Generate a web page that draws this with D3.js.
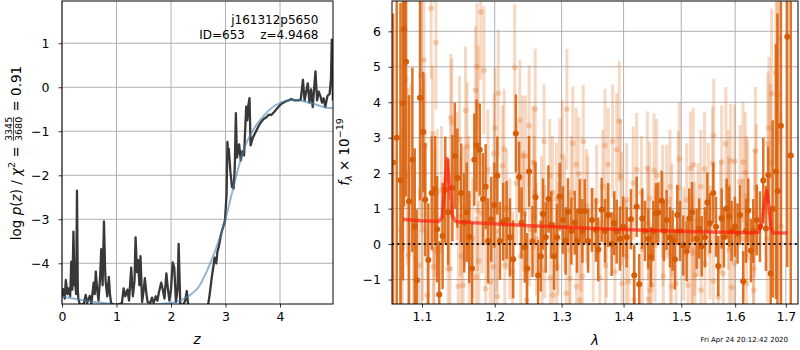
<!DOCTYPE html>
<html>
<head>
<meta charset="utf-8">
<script src="https://cdn.jsdelivr.net/npm/d3@7"></script>
<style>
	body { margin: 0; background: #fff; }
	svg { font-family: "DejaVu Sans", sans-serif; }
</style>
</head>
<body>
<svg id="chart" width="800" height="350"></svg>
<script>
// ---- p(z) panel data
var pzZ = [0.00,0.02,0.05,0.07,0.10,0.12,0.15,0.17,0.19,0.21,0.23,0.24,0.26,0.275,0.29,0.30,0.33,0.40,0.435,0.46,0.51,0.54,0.58,0.60,0.62,0.645,0.67,0.70,0.72,0.745,0.77,0.79,0.80,0.83,0.86,0.88,0.90,0.95,1.05,1.10,1.13,1.16,1.20,1.23,1.27,1.30,1.33,1.35,1.375,1.395,1.42,1.44,1.47,1.50,1.52,1.55,1.57,1.62,1.65,1.68,1.72,1.75,1.78,1.82,1.85,1.88,1.915,1.94,1.97,2.00,2.03,2.06,2.09,2.12,2.14,2.17,2.22,2.26,2.29,2.32,2.40,2.55,2.65,2.71,2.75,2.78,2.80,2.83,2.85,2.88,2.92,2.95,2.99,3.02,3.035,3.05,3.06,3.09,3.12,3.15,3.17,3.19,3.21,3.23,3.25,3.28,3.31,3.34,3.38,3.40,3.42,3.44,3.46,3.50,3.54,3.58,3.62,3.66,3.70,3.75,3.80,3.84,3.90,3.96,4.02,4.09,4.15,4.21,4.27,4.33,4.38,4.42,4.45,4.48,4.51,4.54,4.57,4.60,4.65,4.68,4.71,4.74,4.77,4.80,4.83,4.87,4.91,4.935,4.95,4.96,4.97];
var pzLog = [-4.75,-4.59,-4.80,-4.38,-4.70,-4.57,-4.75,-3.96,-4.60,-3.28,-4.50,-4.40,-4.70,-2.35,-4.60,-4.80,-4.95,-4.92,-4.72,-4.90,-4.74,-4.92,-4.44,-4.70,-4.19,-4.60,-4.85,-4.30,-3.68,-4.50,-3.05,-4.10,-4.40,-4.75,-4.31,-4.70,-4.90,-4.95,-4.93,-4.90,-4.57,-4.75,-4.60,-4.85,-4.10,-4.75,-4.40,-3.41,-4.20,-3.93,-4.50,-3.84,-4.88,-4.60,-4.34,-4.70,-4.88,-4.90,-4.78,-4.90,-4.75,-4.85,-4.65,-4.44,-4.60,-4.80,-4.23,-4.55,-4.85,-4.60,-3.98,-4.10,-4.88,-4.60,-3.56,-4.93,-4.95,-4.85,-4.63,-5.00,-5.50,-5.80,-5.20,-4.70,-4.30,-4.05,-3.87,-4.00,-3.75,-3.60,-3.33,-3.20,-3.03,-2.42,-1.24,-1.60,-1.40,-1.93,-2.27,-2.30,-1.80,-0.59,-1.60,-1.45,-1.30,-1.66,-1.45,-1.55,-0.44,-0.75,-0.40,-0.25,-1.32,-1.15,-1.05,-0.95,-0.85,-0.78,-0.72,-0.68,-0.62,-0.63,-0.55,-0.46,-0.38,-0.33,-0.30,-0.27,-0.30,-0.30,-0.28,0.17,-0.30,-0.10,0.09,-0.35,-0.05,-0.45,0.36,-0.30,-0.10,-0.20,-0.35,-0.25,-0.45,-0.20,-0.15,0.20,1.08,1.00,-0.30];
var smoothZ = [0,0.3,0.6,1.0,1.5,2.0,2.2,2.35,2.5,2.65,2.8,2.9,3.0,3.1,3.2,3.3,3.4,3.5,3.6,3.7,3.8,3.9,4.0,4.1,4.2,4.3,4.4,4.5,4.6,4.7,4.8,4.9,4.97];
var smoothLog = [-4.76,-4.82,-4.88,-4.93,-4.94,-4.90,-4.83,-4.72,-4.55,-4.20,-3.75,-3.40,-3.00,-2.50,-2.00,-1.55,-1.22,-0.98,-0.80,-0.65,-0.52,-0.42,-0.36,-0.31,-0.29,-0.29,-0.31,-0.34,-0.37,-0.41,-0.45,-0.47,-0.47];
var zTicks = [0,1,2,3,4];
var pzTicks = [-4,-3,-2,-1,0,1];

// ---- spectrum panel data, fλ in 1e-19
var darkLam = [1.0625,1.0672,1.0720,1.0752,1.0766,1.0791,1.0830,1.0874,1.0905,1.0931,1.0974,1.1017,1.1043,1.1083,1.1128,1.1172,1.1200,1.1229,1.1274,1.1310,1.1350,1.1407,1.1440,1.1475,1.1528,1.1570,1.1604,1.1640,1.1678,1.1710,1.1741,1.1787,1.1833,1.1870,1.1905,1.1950,1.1995,1.2037,1.2075,1.2123,1.2172,1.2220,1.2268,1.2307,1.2356,1.2391,1.2440,1.2474,1.2503,1.2554,1.2600,1.2639,1.2680,1.2714,1.2755,1.2796,1.2840,1.2882,1.2928,1.2970,1.3021,1.3063,1.3099,1.3153,1.3205,1.3241,1.3284,1.3327,1.3364,1.3418,1.3480,1.3545,1.3582,1.3638,1.3692,1.3745,1.3802,1.3845,1.3885,1.3939,1.3994,1.4052,1.4124,1.4180,1.4221,1.4265,1.4316,1.4363,1.4420,1.4466,1.4507,1.4553,1.4594,1.4652,1.4693,1.4740,1.4799,1.4847,1.4887,1.4929,1.4977,1.5037,1.5097,1.5144,1.5195,1.5279,1.5327,1.5372,1.5432,1.5475,1.5525,1.5587,1.5637,1.5679,1.5743,1.5785,1.5838,1.5887,1.5932,1.5995,1.6045,1.6092,1.6155,1.6208,1.6252,1.6304,1.6350,1.6417,1.6481,1.6547,1.6600,1.6646,1.6694,1.6734,1.6799,1.6830,1.6900,1.7029,1.7100];
var darkFlux = [2.30,3.00,1.80,3.97,6.06,5.14,1.20,2.38,0.50,-1.02,4.13,3.16,1.25,-0.45,1.44,1.55,0.42,-1.42,0.23,1.53,0.90,1.58,2.49,1.86,1.44,0.60,0.90,0.20,-0.69,2.38,2.78,2.66,1.27,1.62,0.09,0.70,1.10,1.93,0.09,0.63,0.68,0.19,-0.43,3.12,1.89,0.60,-0.09,-0.69,2.05,0.07,1.32,-0.88,-0.34,0.85,0.19,1.27,0.54,-0.34,0.19,1.34,0.68,0.09,0.91,0.37,0.60,0.09,0.93,0.37,0.93,0.09,0.68,0.40,-0.15,0.97,0.37,0.82,0.00,0.59,0.35,0.15,0.49,0.19,0.70,-0.88,1.05,-1.13,0.72,0.37,0.15,-0.36,0.37,0.87,0.89,1.22,0.37,0.68,0.19,0.10,-0.43,0.82,0.37,-0.04,-0.20,0.72,0.90,0.15,0.44,-0.06,0.19,1.17,0.59,1.44,0.49,-0.62,0.72,0.19,1.00,0.77,0.37,0.49,0.30,0.82,-1.05,0.37,0.95,-0.18,0.37,0.68,0.49,1.79,0.44,1.95,-0.83,0.99,2.05,1.50,3.34,5.85,2.50];
var darkErr = [4.2,5.5,5.0,5.0,5.0,3.8,3.0,2.6,2.2,2.0,2.9,1.7,1.6,1.6,1.6,1.5,1.5,1.5,1.5,1.5,1.5,1.5,1.5,1.4,1.4,1.4,1.4,1.3,1.3,1.3,1.3,1.3,1.3,1.2,1.2,1.2,1.2,1.1,1.1,1.1,1.1,1.1,1.1,1.1,1.0,1.0,1.0,1.0,1.0,1.0,1.0,1.0,1.0,1.0,1.0,0.95,0.95,0.95,0.95,0.95,0.95,0.95,0.95,0.95,0.9,0.9,0.9,0.9,0.9,0.9,0.9,0.9,0.9,0.9,0.9,0.9,0.9,0.9,0.9,0.9,0.85,0.85,0.85,0.85,0.85,0.85,0.85,0.85,0.85,0.85,0.85,0.85,0.85,0.85,0.85,0.85,0.85,0.85,0.85,0.85,0.85,0.85,0.85,0.85,0.85,0.85,0.85,0.85,0.85,0.85,0.85,0.85,0.85,0.85,0.85,0.85,0.85,0.85,0.85,0.85,0.85,0.85,0.85,0.9,0.9,0.9,0.9,1.0,1.0,1.2,1.2,0.8,1.75,2.5,3.6,5.0,6.0,6.5,7.0];

var lightLam = [1.0725,1.0745,1.0790,1.0810,1.0822,1.0852,1.0888,1.0965,1.0983,1.0996,1.1010,1.1025,1.1040,1.1070,1.1120,1.1140,1.1150,1.1160,1.1170,1.1185,1.1200,1.1260,1.1349,1.1376,1.1385,1.1398,1.1470,1.1488,1.1505,1.1520,1.1530,1.1555,1.1570,1.1588,1.1610,1.1630,1.1640,1.1689,1.1728,1.1738,1.1748,1.1755,1.1765,1.1775,1.1801,1.1820,1.1846,1.1870,1.1902,1.1937,1.1979,1.1990,1.2004,1.2028,1.2035,1.2051,1.2114,1.2136,1.2145,1.2172,1.2220,1.2259,1.2290,1.2317,1.2366,1.2380,1.2406,1.2420,1.2451,1.2466,1.2503,1.2510,1.2565,1.2575,1.2585,1.2595,1.2614,1.2690,1.2700,1.2729,1.2740,1.2817,1.2825,1.2859,1.2868,1.2919,1.2925,1.2944,1.2970,1.3011,1.3046,1.3072,1.3082,1.3124,1.3130,1.3150,1.3175,1.3228,1.3235,1.3269,1.3284,1.3305,1.3326,1.3340,1.3392,1.3415,1.3501,1.3557,1.3607,1.3654,1.3692,1.3700,1.3718,1.3745,1.3817,1.3855,1.3885,1.3927,1.3951,1.3967,1.3975,1.4041,1.4052,1.4080,1.4163,1.4175,1.4221,1.4302,1.4316,1.4403,1.4420,1.4425,1.4444,1.4450,1.4480,1.4519,1.4538,1.4566,1.4669,1.4675,1.4681,1.4740,1.4799,1.4805,1.4829,1.4833,1.4905,1.4948,1.4965,1.5045,1.5097,1.5124,1.5165,1.5188,1.5206,1.5217,1.5245,1.5250,1.5304,1.5355,1.5360,1.5424,1.5432,1.5493,1.5525,1.5572,1.5587,1.5595,1.5679,1.5726,1.5743,1.5773,1.5823,1.5868,1.5875,1.5887,1.5914,1.5932,1.5986,1.5991,1.6092,1.6150,1.6155,1.6195,1.6212,1.6220,1.6241,1.6355,1.6360,1.6374,1.6391,1.6409,1.6629,1.6640,1.6659,1.6690,1.6712,1.6800,1.6830,1.6869,1.6900];
var lightFlux = [0.40,-0.12,4.65,1.91,-0.31,2.14,0.40,-0.60,4.76,2.47,0.40,5.19,2.78,-1.44,6.65,3.12,-0.64,-0.17,0.87,5.69,1.44,1.53,-0.69,-0.70,3.56,3.43,1.93,-1.19,2.95,0.79,-0.34,-1.16,1.06,3.77,2.76,1.36,-0.45,0.16,4.34,-0.93,5.00,0.94,3.91,-0.48,6.54,0.87,4.90,-1.26,2.10,-1.07,-0.64,2.55,3.28,0.35,-1.47,4.25,2.21,2.68,-0.60,0.98,0.15,-0.78,4.98,1.72,3.49,-0.34,2.49,0.92,2.49,-1.58,3.34,0.42,2.30,0.76,1.45,3.81,0.15,0.88,-0.74,2.90,0.07,1.93,-0.95,1.45,-1.44,1.27,-0.64,0.15,1.95,2.47,0.82,-1.39,3.80,-0.17,-0.97,1.45,2.85,2.24,-1.20,1.98,-1.58,0.26,-0.91,2.90,1.08,0.90,-0.03,1.20,-0.95,1.62,2.78,-0.60,0.10,2.24,2.90,-0.78,2.66,3.47,1.91,1.00,-1.11,-0.35,1.25,-1.06,1.72,-1.58,2.10,1.45,-0.15,2.14,0.59,-1.56,1.29,-1.30,-1.16,2.08,-0.03,1.93,1.20,0.40,-0.90,1.20,1.62,-0.26,-1.19,0.68,-1.11,1.58,2.40,0.00,1.25,-1.16,2.14,-0.17,-0.26,2.24,0.15,-0.88,0.68,1.62,-1.30,2.12,-0.55,1.25,0.05,2.27,-1.04,3.06,-1.49,0.77,2.31,-0.83,2.83,1.62,0.87,-0.17,2.35,-1.22,-0.55,2.33,1.76,2.31,0.15,2.02,1.36,-1.11,1.25,-0.69,-1.30,0.87,2.63,1.58,0.15,2.83,3.28,2.31,4.24,4.82,4.22,5.79,0.50];
var lightErr = [2.8,2.6,2.8,2.5,2.4,2.4,2.3,2.2,2.2,2.0,2.0,2.1,2.0,1.9,2.0,1.9,1.9,1.8,1.8,1.9,1.8,1.8,1.8,1.8,1.8,1.8,1.8,1.8,1.8,1.7,1.7,1.7,1.7,1.8,1.8,1.7,1.7,1.7,1.8,1.7,1.8,1.7,1.7,1.7,1.9,1.7,1.8,1.7,1.7,1.7,1.7,1.7,1.7,1.7,1.7,1.8,1.7,1.7,1.7,1.7,1.7,1.7,1.8,1.7,1.7,1.7,1.7,1.7,1.7,1.7,1.7,1.6,1.6,1.6,1.6,1.7,1.6,1.6,1.6,1.6,1.6,1.6,1.6,1.6,1.6,1.6,1.6,1.6,1.6,1.6,1.6,1.6,1.7,1.6,1.6,1.6,1.6,1.6,1.6,1.6,1.6,1.6,1.6,1.6,1.6,1.6,1.6,1.6,1.6,1.6,1.6,1.6,1.6,1.6,1.6,1.6,1.6,1.7,1.6,1.6,1.6,1.6,1.6,1.6,1.6,1.6,1.6,1.6,1.6,1.6,1.6,1.6,1.6,1.6,1.6,1.6,1.6,1.6,1.6,1.6,1.6,1.6,1.6,1.6,1.6,1.6,1.6,1.6,1.6,1.6,1.6,1.6,1.6,1.6,1.6,1.6,1.6,1.6,1.6,1.6,1.6,1.6,1.6,1.6,1.6,1.6,1.6,1.6,1.6,1.6,1.6,1.6,1.6,1.6,1.6,1.6,1.6,1.6,1.6,1.6,1.6,1.7,1.7,1.7,1.7,1.7,1.7,1.7,1.8,1.8,1.8,1.8,1.8,2.0,2.0,2.2,2.4,2.6,2.8,3.0,3.2,3.0];

var modelLam = [1.075,1.090,1.100,1.110,1.122,1.127,1.130,1.1334,1.137,1.141,1.145,1.150,1.160,1.170,1.200,1.250,1.300,1.350,1.400,1.450,1.500,1.550,1.600,1.630,1.645,1.652,1.657,1.662,1.666,1.670,1.675,1.690,1.703];
var modelFlux = [0.70,0.67,0.66,0.65,0.64,0.75,1.50,2.41,1.60,0.80,0.64,0.62,0.62,0.60,0.57,0.52,0.48,0.44,0.41,0.38,0.36,0.34,0.33,0.31,0.33,0.60,1.20,1.50,1.05,0.45,0.31,0.31,0.31];
var lamTicks = [1.1,1.2,1.3,1.4,1.5,1.6,1.7];
var fluxTicks = [-1,0,1,2,3,4,5,6];

var svg = d3.select("#chart");
svg.append("rect").attr("width", 800).attr("height", 350).attr("fill", "#fff");

var GRID = "#b0b0b0";

// grid, clip and ticks for one axes box; returns the clipped group for the marks
function make_axes(box, xs, ys, xticks, yticks, xfmt, opts) {
	var id = "clip_" + opts.name;
	svg.append("clipPath").attr("id", id)
		.append("rect")
		.attr("x", box.x0).attr("y", box.y0)
		.attr("width", box.x1 - box.x0).attr("height", box.y1 - box.y0);

	var grid = svg.append("g");
	grid.selectAll(".gx").data(xticks).enter().append("line")
		.attr("x1", function(d){ return xs(d); }).attr("x2", function(d){ return xs(d); })
		.attr("y1", box.y0).attr("y2", box.y1)
		.attr("stroke", GRID).attr("stroke-width", 1);
	grid.selectAll(".gy").data(yticks).enter().append("line")
		.attr("y1", function(d){ return ys(d); }).attr("y2", function(d){ return ys(d); })
		.attr("x1", box.x0).attr("x2", box.x1)
		.attr("stroke", GRID).attr("stroke-width", 1);

	var inner = svg.append("g").attr("clip-path", "url(#" + id + ")");

	var xa = svg.append("g").attr("transform", "translate(0," + box.y1 + ")")
		.call(d3.axisBottom(xs).tickValues(xticks).tickFormat(xfmt)
			.tickSize(3.5).tickSizeOuter(0).tickPadding(opts.xpad));
	var ya = svg.append("g").attr("transform", "translate(" + box.x0 + ",0)")
		.call(d3.axisLeft(ys).tickValues(yticks).tickFormat(d3.format("d"))
			.tickSize(3.5).tickSizeOuter(0).tickPadding(opts.ypad));
	[xa, ya].forEach(function(a){
		a.select(".domain").remove();
		a.attr("font-family", null).attr("font-size", null);
		a.selectAll("text").attr("font-size", 12.5).attr("fill", "#000");
		a.selectAll("line").attr("stroke", "#000").attr("stroke-width", 0.8);
	});

	return inner;
}

function frame(box) {
	svg.append("rect")
		.attr("x", box.x0).attr("y", box.y0)
		.attr("width", box.x1 - box.x0).attr("height", box.y1 - box.y0)
		.attr("fill", "none").attr("stroke", "#000").attr("stroke-width", 1);
}

// text made of pieces laid out along the (rotated) baseline
function math_label(x, y, pieces) {
	var g = svg.append("g").attr("transform", "translate(" + x + "," + y + ") rotate(-90)");
	var cur = 0;
	pieces.forEach(function(p){
		if (p.frac) {
			var n = g.append("text").text(p.frac[0]).attr("font-size", p.size).attr("y", p.ny);
			var d = g.append("text").text(p.frac[1]).attr("font-size", p.size).attr("y", p.dy);
			var w = Math.max(n.node().getComputedTextLength(), d.node().getComputedTextLength());
			n.attr("x", cur + 1 + w / 2).attr("text-anchor", "middle");
			d.attr("x", cur + 1 + w / 2).attr("text-anchor", "middle");
			g.append("line").attr("x1", cur + 1).attr("x2", cur + 1 + w)
				.attr("y1", p.ly).attr("y2", p.ly).attr("stroke", "#000").attr("stroke-width", 0.7);
			cur += w + 2;
			return;
		}
		var t = g.append("text").text(p.t).attr("x", cur).attr("y", p.dy || 0)
			.attr("font-size", p.size || 13.5)
			.attr("font-style", p.it ? "italic" : null)
			.style("white-space", "pre");
		cur += t.node().getComputedTextLength();
	});
	g.selectAll("text").attr("transform", "translate(" + (-cur / 2) + ",0)");
	g.selectAll("line").attr("transform", "translate(" + (-cur / 2) + ",0)");
	return g;
}

// ---------------- left: p(z)
var LB = {x0: 62, x1: 333, y0: 1, y1: 304};
var xz = d3.scaleLinear().domain([0, 4.972]).range([LB.x0, LB.x1]);
var yp = d3.scaleLinear().domain([-4.925, 1.96]).range([LB.y1, LB.y0]);
var gl = make_axes(LB, xz, yp, zTicks, pzTicks, d3.format("d"), {name: "pz", xpad: 5, ypad: 9});

var pzLine = d3.line().x(function(d){ return xz(d[0]); }).y(function(d){ return yp(d[1]); });
gl.append("path")
	.datum(pzZ.map(function(z, i){ return [z, pzLog[i]]; }))
	.attr("d", pzLine)
	.attr("fill", "none").attr("stroke", "#383838").attr("stroke-width", 2.3)
	.attr("stroke-linejoin", "round");
gl.append("path")
	.datum(smoothZ.map(function(z, i){ return [z, smoothLog[i]]; }))
	.attr("d", pzLine.curve(d3.curveMonotoneX))
	.attr("fill", "none").attr("stroke", "#4682b4").attr("stroke-opacity", 0.6).attr("stroke-width", 2);
frame(LB);

svg.append("text").attr("x", 318.5).attr("y", 24).attr("text-anchor", "end")
	.attr("font-size", 12).text("j161312p5650");
svg.append("text").attr("x", 318.5).attr("y", 39).attr("text-anchor", "end")
	.attr("font-size", 12).style("white-space", "pre").text("ID=653    z=4.9468");

svg.append("text").attr("x", 197).attr("y", 344).attr("text-anchor", "middle")
	.attr("font-size", 13.5).attr("font-style", "italic").text("z");

math_label(21, 153, [
	{t: "log "}, {t: "p", it: true}, {t: "("}, {t: "z", it: true}, {t: ") / "},
	{t: "χ", it: true}, {t: "2", size: 9.5, dy: -6}, {t: " = "},
	{frac: ["3345", "3680"], size: 9.5, ny: -9, dy: 0.5, ly: -7.5},
	{t: " = 0.91"}
]);

// ---------------- right: spectrum
var RB = {x0: 392, x1: 798, y0: 1, y1: 304};
var xl = d3.scaleLog().domain([1.0612, 1.7249]).range([RB.x0, RB.x1]);
var yf = d3.scaleLinear().domain([-1.69, 6.855]).range([RB.y1, RB.y0]);
var gr = make_axes(RB, xl, yf, lamTicks, fluxTicks, d3.format(".1f"), {name: "spec", xpad: 5, ypad: 7.5});

function spec_points(lam, flux, err) {
	return lam.map(function(l, i){ return {l: l, f: flux[i], e: err[i]}; });
}
var LIGHT = "#e07020", DARK = "#d9620c";

var light = spec_points(lightLam, lightFlux, lightErr);
gr.append("g").selectAll("line").data(light).enter().append("line")
	.attr("x1", function(d){ return xl(d.l); }).attr("x2", function(d){ return xl(d.l); })
	.attr("y1", function(d){ return yf(d.f + d.e); }).attr("y2", function(d){ return yf(d.f - d.e); })
	.attr("stroke", LIGHT).attr("stroke-opacity", 0.27).attr("stroke-width", 3);
gr.append("g").selectAll("circle").data(light).enter().append("circle")
	.attr("cx", function(d){ return xl(d.l); }).attr("cy", function(d){ return yf(d.f); })
	.attr("r", 2.8).attr("fill", LIGHT).attr("fill-opacity", 0.3);

var dark = spec_points(darkLam, darkFlux, darkErr);
gr.append("g").selectAll("line").data(dark).enter().append("line")
	.attr("x1", function(d){ return xl(d.l); }).attr("x2", function(d){ return xl(d.l); })
	.attr("y1", function(d){ return yf(d.f + d.e); }).attr("y2", function(d){ return yf(d.f - d.e); })
	.attr("stroke", DARK).attr("stroke-opacity", 0.88).attr("stroke-width", 2.5);
gr.append("g").selectAll("circle").data(dark).enter().append("circle")
	.attr("cx", function(d){ return xl(d.l); }).attr("cy", function(d){ return yf(d.f); })
	.attr("r", 3).attr("fill", "#d65c06");

gr.append("path")
	.datum(modelLam.map(function(l, i){ return [l, modelFlux[i]]; }))
	.attr("d", d3.line().x(function(d){ return xl(d[0]); }).y(function(d){ return yf(d[1]); }))
	.attr("fill", "none").attr("stroke", "#ff1a0a").attr("stroke-opacity", 0.65)
	.attr("stroke-width", 3.5).attr("stroke-linejoin", "round");

gr.append("line")
	.attr("x1", RB.x0).attr("x2", RB.x1).attr("y1", yf(0)).attr("y2", yf(0))
	.attr("stroke", "#111").attr("stroke-width", 2).attr("stroke-dasharray", "2,3.3");
frame(RB);

svg.append("text").attr("x", 595).attr("y", 345).attr("text-anchor", "middle")
	.attr("font-size", 13.5).attr("font-style", "italic").text("λ");

math_label(349, 152, [
	{t: "f", it: true}, {t: "λ", it: true, size: 9.5, dy: 3}, {t: " × 10"},
	{t: "−19", size: 9.5, dy: -6}
]);

svg.append("text").attr("x", 788).attr("y", 341.5).attr("text-anchor", "end")
	.attr("font-size", 7).text("Fri Apr 24 20:12:42 2020");
</script>
</body>
</html>
